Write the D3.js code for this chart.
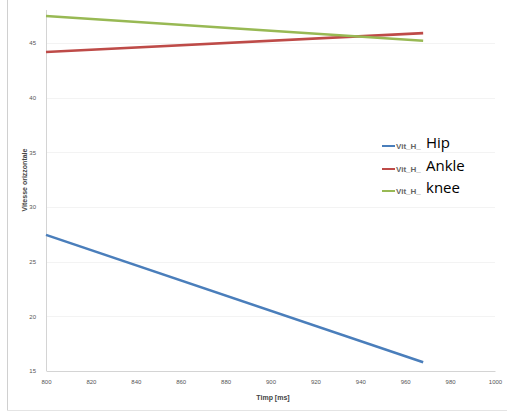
<!DOCTYPE html>
<html><head><meta charset="utf-8">
<script src="https://cdn.jsdelivr.net/npm/d3@7"></script>
<style>body{margin:0;background:#fff}svg{display:block}</style>
</head><body>
<svg id="c" width="507" height="412"></svg>
<script>
const seriesNames = ["Hip", "Ankle", "knee"];
const seriesColors = ["#4a7ebb", "#be4b48", "#98b954"];
const timeValues = [800, 968];
const hipValues = [27.45, 15.8];
const ankleValues = [44.18, 45.9];
const kneeValues = [47.47, 45.2];
const xTicks = [800, 820, 840, 860, 880, 900, 920, 940, 960, 980, 1000];
const yTicks = [15, 20, 25, 30, 35, 40, 45];

const svg = d3.select("#c");
const x = d3.scaleLinear().domain([800, 1000]).range([46, 495]);
const y = d3.scaleLinear().domain([15, 45]).range([371, 43]);

// outer frame (left and bottom faint)
svg.append("line").attr("x1",7.5).attr("x2",7.5).attr("y1",0).attr("y2",410).attr("stroke","#d0d0d0");
svg.append("line").attr("x1",7).attr("x2",507).attr("y1",410.5).attr("y2",410.5).attr("stroke","#e4e4e4");

// gridlines
svg.append("g").selectAll("line").data(yTicks.slice(1)).join("line")
  .attr("x1", x(800)).attr("x2", x(1000))
  .attr("y1", d => Math.round(y(d))+0.5).attr("y2", d => Math.round(y(d))+0.5)
  .attr("stroke", "#f3f3f3");

// axes
const xAxis = svg.append("g").attr("transform", `translate(0,${y(15)})`)
  .call(d3.axisBottom(x).tickValues(xTicks).tickFormat(d3.format("d")).tickSize(0).tickPadding(9));
const yAxis = svg.append("g").attr("transform", `translate(${x(800)},0)`)
  .call(d3.axisLeft(y).tickValues(yTicks).tickFormat(d3.format("d")).tickSize(0).tickPadding(10));
[xAxis, yAxis].forEach(g => {
  g.select(".domain").attr("stroke", "#d4d4d4");
  g.selectAll("text").attr("fill", "#555").style("font-family", "Liberation Sans, sans-serif").style("font-size", "6px");
});
yAxis.select(".domain").attr("d", `M0.5,10V${y(15)}`);

// axis titles
svg.append("text").attr("x", 273).attr("y", 400).attr("text-anchor", "middle")
  .style("font-family", "Liberation Sans, sans-serif").style("font-size", "7px").style("font-weight", "bold")
  .attr("fill", "#444").text("Timp [ms]");
svg.append("text").attr("transform", "translate(27,180) rotate(-90)").attr("text-anchor", "middle")
  .style("font-family", "Liberation Sans, sans-serif").style("font-size", "7px").style("font-weight", "bold")
  .attr("fill", "#444").text("Vitesse orizzontale");

// lines
const allSeries = [hipValues, ankleValues, kneeValues];
const line = d3.line().x((d, i) => x(timeValues[i])).y(d => y(d));
allSeries.forEach((vals, k) => {
  svg.append("path").datum(vals).attr("d", line).attr("fill", "none")
    .attr("stroke", seriesColors[k]).attr("stroke-width", 2.6);
});

// legend
const legendY = [146, 169, 191];
seriesNames.forEach((name, k) => {
  const g = svg.append("g").attr("transform", `translate(382,${legendY[k]})`);
  g.append("line").attr("x1", 0).attr("x2", 13).attr("y1", 0).attr("y2", 0)
    .attr("stroke", seriesColors[k]).attr("stroke-width", 2);
  g.append("text").attr("x", 14).attr("y", 3)
    .style("font-family", "Liberation Sans, sans-serif").style("font-size", "8px").style("font-weight","bold")
    .attr("fill", "#666").text("Vit_H_");
  g.append("text").attr("x", 44).attr("y", 2)
    .style("font-family", "Open Sans, sans-serif").style("font-size", "15px")
    .attr("fill", "#000").text(name);
});
</script>
</body></html>
